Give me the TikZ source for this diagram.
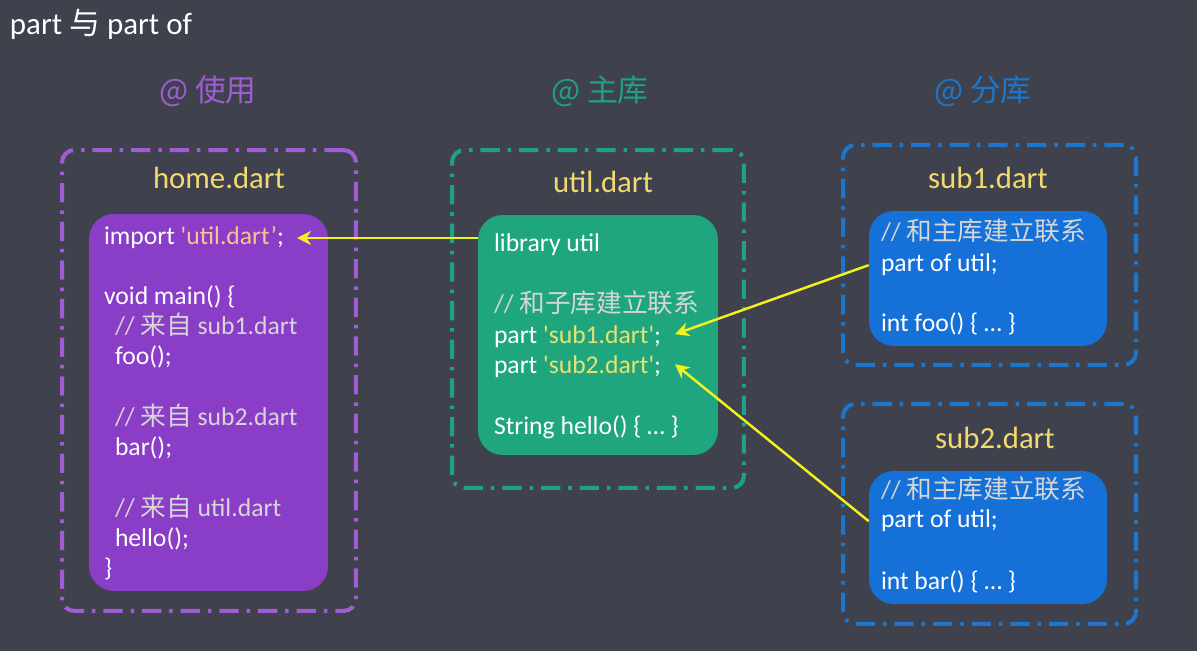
\documentclass[tikz,border=0pt]{standalone}
\usepackage{fontspec}
\setmainfont{Carlito}
\newfontfamily\cjk{Noto Sans CJK SC}
\newcommand{\zh}[1]{{\cjk #1}}
\newcommand{\sq}{\textquotesingle}
\usetikzlibrary{arrows.meta}

\definecolor{bgcol}{HTML}{3F424D}
\definecolor{homefill}{HTML}{8A3EC8}
\definecolor{homeline}{HTML}{A05CD2}
\definecolor{utilfill}{HTML}{20A67E}
\definecolor{utilline}{HTML}{1FA284}
\definecolor{subfill}{HTML}{1570D8}
\definecolor{subline}{HTML}{1C76CC}
\definecolor{fileyellow}{HTML}{F2DA70}
\definecolor{strpeach}{HTML}{F6C48C}
\definecolor{stryellow}{HTML}{E8E26E}
\definecolor{cmtgray}{HTML}{D6D6D6}
\definecolor{linkyellow}{HTML}{F2F21E}

\tikzset{
	code/.style={anchor=base west,inner sep=0,outer sep=0,text=white,font=\fontsize{14.6}{17}\selectfont},
	cmt/.style={code,text=cmtgray},
	fname/.style={anchor=base,inner sep=0,text=fileyellow,font=\fontsize{17.5}{20}\selectfont},
	hdr/.style={anchor=base,inner sep=0,font=\fontsize{17.5}{20}\selectfont\cjk},
	frame/.style={draw,line width=2.3pt,rounded corners=7pt,dash pattern=on 11pt off 4.5pt on 2pt off 4.5pt},
	card/.style={rounded corners=14pt,inner sep=0},
	link/.style={draw=linkyellow,line width=1.4pt,-{Stealth[length=8pt,width=8pt]}}
}

\begin{document}
\begin{tikzpicture}[x=0.02cm,y=-0.02cm]
	\useasboundingbox (0,0) rectangle (1197,651);
	\fill[bgcol] (0,0) rectangle (1197,651);
	\node[code,font=\fontsize{17.6}{20}\selectfont] (title) at (10,35) {part \zh{与} part of};

	% headers
	\node[hdr,text=homeline] (huse) at (208,102) {@ 使用};
	\node[hdr,text=utilline] (hmain) at (600,102) {@ 主库};
	\node[hdr,text=subline] (hsub) at (983,102) {@ 分库};

	% frames
	\node[frame,draw=homeline,minimum width=5.88cm,minimum height=9.22cm] (homeframe) at (209,380.5) {};
	\node[frame,draw=utilline,minimum width=5.84cm,minimum height=6.76cm] (utilframe) at (598,319) {};
	\node[frame,draw=subline,minimum width=5.86cm,minimum height=4.4cm] (subAframe) at (989.5,255) {};
	\node[frame,draw=subline,minimum width=5.86cm,minimum height=4.4cm] (subBframe) at (989.5,514) {};

	\node[fname] (homename) at (219,189) {home.dart};
	\node[fname] (utilname) at (603,193) {util.dart};
	\node[fname] (subAname) at (988,189) {sub1.dart};
	\node[fname] (subBname) at (995,449) {sub2.dart};

	% cards
	\node[card,fill=homefill,minimum width=4.78cm,minimum height=7.54cm] (homebox) at (208.5,402.5) {};
	\node[card,fill=utilfill,minimum width=4.8cm,minimum height=4.8cm] (utilbox) at (598,335) {};
	\node[card,fill=subfill,minimum width=4.76cm,minimum height=2.7cm] (subAbox) at (988,278.5) {};
	\node[card,fill=subfill,minimum width=4.76cm,minimum height=2.66cm] (subBbox) at (988,537.5) {};

	% home.dart
	\node[code] (imp) at (104,245) {import \textcolor{strpeach}{\sq util.dart'};};
	\node[code] (hmain1) at (104,305) {void main() \{};
	\node[cmt] (hc1) at (115,335) {// \zh{来自} sub1.dart};
	\node[code] (hfoo) at (115,365) {foo();};
	\node[cmt] (hc2) at (115,426) {// \zh{来自} sub2.dart};
	\node[code] (hbar) at (115,456) {bar();};
	\node[cmt] (hc3) at (115,517) {// \zh{来自} util.dart};
	\node[code] (hhello) at (115,547) {hello();};
	\node[code] (hend) at (104,577) {\}};

	% util.dart
	\node[code] (lib) at (494,252) {library util};
	\node[cmt] (uc) at (494,313) {// \zh{和子库建立联系}};
	\node[code] (partA) at (494,344) {part \textcolor{stryellow}{\sq sub1.dart\sq};};
	\node[code] (partB) at (494,374) {part \textcolor{stryellow}{\sq sub2.dart\sq};};
	\node[code] (uhello) at (494,435) {String hello() \{ \dots\ \}};

	% sub1.dart
	\node[cmt] (sAc) at (881,241) {// \zh{和主库建立联系}};
	\node[code] (partofA) at (881,272) {part of util;};
	\node[code] (sfoo) at (881,332) {int foo() \{ \dots\ \}};

	% sub2.dart
	\node[cmt] (sBc) at (881,499) {// \zh{和主库建立联系}};
	\node[code] (partofB) at (881,528) {part of util;};
	\node[code] (sbar) at (881,590) {int bar() \{ \dots\ \}};

	\draw[link] (utilbox.west |- imp.east) -- ([xshift=0.26cm]imp.east);
	\draw[link] (subAbox.west |- partofA.east) -- ([xshift=0.28cm,yshift=0.06cm]partA.east);
	\draw[link] (subBbox.west |- partofB.east) -- ([xshift=0.28cm,yshift=0.06cm]partB.east);
\end{tikzpicture}
\end{document}
